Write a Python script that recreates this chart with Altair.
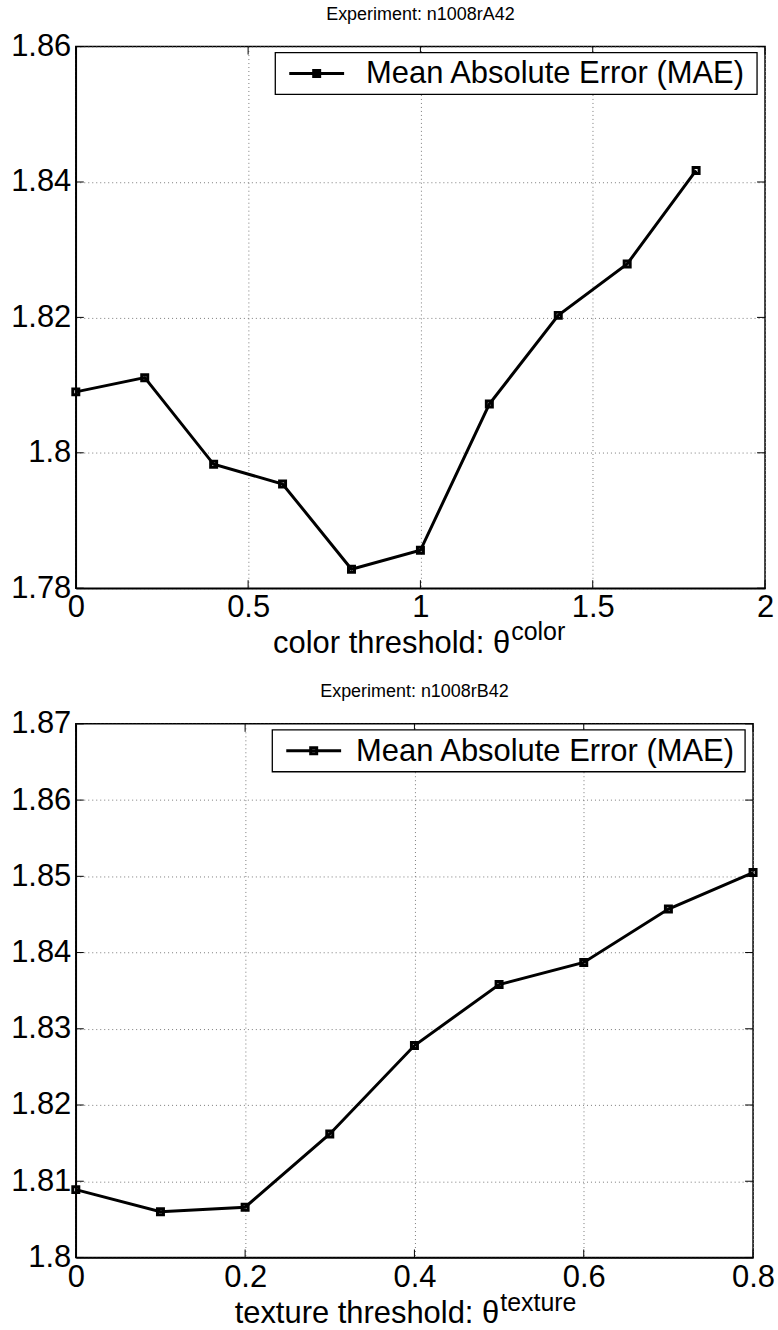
import altair as alt
import pandas as pd

# ---------------- data ----------------
top_x = [0.0, 0.2, 0.4, 0.6, 0.8, 1.0, 1.2, 1.4, 1.6, 1.8]
top_y = [1.8090, 1.8111, 1.7983, 1.7954, 1.7828, 1.7856, 1.8072, 1.8203, 1.8279, 1.8417]

bot_x = [0.0, 0.1, 0.2, 0.3, 0.4, 0.5, 0.6, 0.7, 0.8]
bot_y = [1.8089, 1.8060, 1.8066, 1.8162, 1.8278, 1.8358, 1.8387, 1.8457, 1.8505]

top_xticks = [0, 0.5, 1, 1.5, 2]
top_yticks = [1.78, 1.80, 1.82, 1.84, 1.86]
bot_xticks = [0, 0.2, 0.4, 0.6, 0.8]
bot_yticks = [1.80, 1.81, 1.82, 1.83, 1.84, 1.85, 1.86, 1.87]

series_label = "Mean Absolute Error (MAE)"
titles = ["Experiment: n1008rA42", "Experiment: n1008rB42"]
xlabel_main = ["color threshold: \u03b8", "texture threshold: \u03b8"]
xlabel_sup = ["color", "texture"]

FONT = "Liberation Sans"
BIG = 31


def panel(xs, ys, xdom, ydom, xticks, yticks, W, H, title, xlab, xsup, xoff, leg, lpad, mainy, supy):
    df = pd.DataFrame({"x": xs, "y": ys, "s": [series_label] * len(xs)})
    xsc = alt.Scale(domain=xdom, nice=False, zero=False)
    ysc = alt.Scale(domain=ydom, nice=False, zero=False)
    xax = alt.Axis(values=xticks, format="~g", title=None, grid=True, ticks=False,
                   labelFontSize=BIG, labelPadding=lpad, labelFlush=False, labelOverlap=False)
    yax = alt.Axis(values=yticks, format="~g", title=None, grid=True, ticks=False,
                   labelFontSize=BIG, labelPadding=5, labelOverlap=False)
    X = lambda f: alt.X(f, scale=xsc, axis=xax)
    Y = lambda f: alt.Y(f, scale=ysc, axis=yax)

    base = alt.Chart(df)
    line = base.mark_line(color="black", strokeWidth=3).encode(x=X("x:Q"), y=Y("y:Q"))
    pts = base.mark_point(shape="square", filled=False, size=36, color="black",
                          strokeWidth=3, opacity=1).encode(x=X("x:Q"), y=Y("y:Q"))

    xt = alt.Chart(pd.DataFrame({"v": xticks}))
    yt = alt.Chart(pd.DataFrame({"v": yticks}))
    tk = dict(color="black", strokeWidth=1)
    xtb = xt.mark_rule(**tk).encode(x=X("v:Q"), y=alt.value(H), y2=alt.value(H - 8))
    xtt = xt.mark_rule(**tk).encode(x=X("v:Q"), y=alt.value(0), y2=alt.value(8))
    ytl = yt.mark_rule(**tk).encode(y=Y("v:Q"), x=alt.value(0), x2=alt.value(8))
    ytr = yt.mark_rule(**tk).encode(y=Y("v:Q"), x=alt.value(W), x2=alt.value(W - 8))

    one = alt.Chart(pd.DataFrame({"t": [title], "m": [xlab], "u": [xsup], "s": [series_label]}))
    ttl = one.mark_text(font=FONT, fontSize=18, color="black", baseline="middle",
                        align="center").encode(text="t:N", x=alt.value(W / 2), y=alt.value(-32))
    xl = one.mark_text(font=FONT, fontSize=BIG, color="black", baseline="alphabetic",
                       align="right").encode(text="m:N", x=alt.value(W / 2 + xoff), y=alt.value(H + mainy))
    xs_ = one.mark_text(font=FONT, fontSize=25, color="black", baseline="alphabetic",
                        align="left").encode(text="u:N", x=alt.value(W / 2 + xoff + 1), y=alt.value(H + supy))

    bl, br, ls, le, tx = leg
    lbox = one.mark_rect(fill="white", stroke="black", strokeWidth=1.3).encode(
        x=alt.value(W - bl), x2=alt.value(W - br), y=alt.value(6), y2=alt.value(48))
    lline = one.mark_rule(color="black", strokeWidth=3).encode(
        x=alt.value(W - ls), x2=alt.value(W - le), y=alt.value(27))
    lpt = one.mark_point(shape="square", filled=False, size=36, color="black", strokeWidth=3,
                         opacity=1).encode(x=alt.value(W - (ls + le) / 2), y=alt.value(27))
    ltxt = one.mark_text(font=FONT, fontSize=BIG, color="black", baseline="middle",
                         align="left").encode(text="s:N", x=alt.value(W - tx), y=alt.value(28))

    return alt.layer(xtb, xtt, ytl, ytr, line, pts, lbox, lline, lpt, ltxt, ttl, xl, xs_).properties(
        width=W, height=H)


top = panel(top_x, top_y, [0, 2], [1.78, 1.86], top_xticks, top_yticks, 691, 543,
            titles[0], xlabel_main[0], xlabel_sup[0], 90, (491, 8, 477, 422, 400), 4, 65, 52)
bot = panel(bot_x, bot_y, [0, 0.8], [1.80, 1.87], bot_xticks, bot_yticks, 679, 535,
            titles[1], xlabel_main[1], xlabel_sup[1], 85, (482, 8, 468, 413, 398), 5, 66, 54)

chart = alt.vconcat(top, bot, spacing=22).properties(
    padding={"left": 9, "top": 3, "right": 2, "bottom": 0}
).configure(font=FONT).configure_view(
    stroke="black", strokeWidth=1.5
).configure_axis(
    gridColor="#7a7a7a", gridDash=[1, 3], gridWidth=1, gridOpacity=1,
    domainColor="black", domainWidth=1.5, labelColor="black", labelFont=FONT
)

chart.save("out.html", embed_options={"renderer": "svg", "actions": False})
